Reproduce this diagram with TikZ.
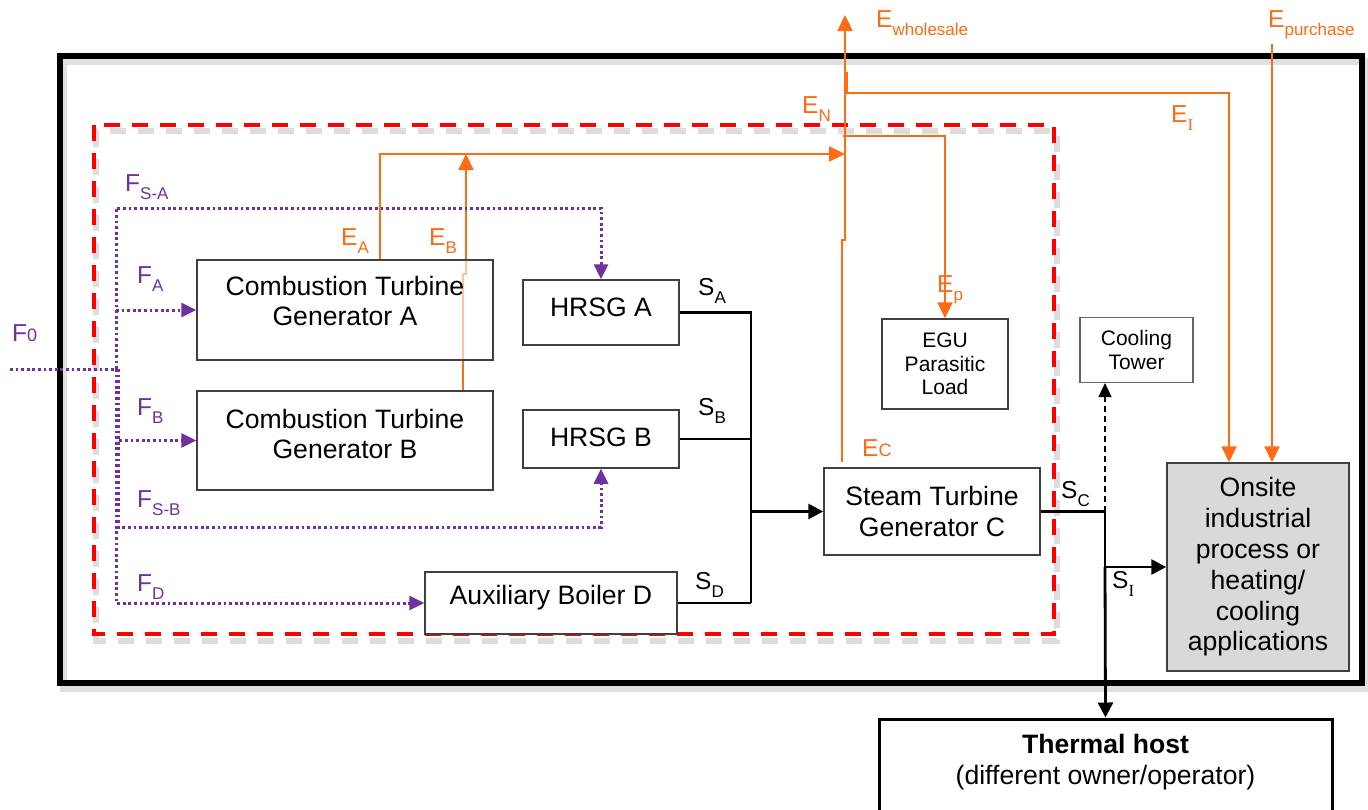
\documentclass[tikz,border=0pt]{standalone}
\usepackage{fontspec}
\setmainfont{Liberation Sans}
\newfontfamily\serifI{Liberation Serif}
\usetikzlibrary{arrows.meta,backgrounds}
\definecolor{eor}{HTML}{FF6A13}
\definecolor{fpu}{HTML}{7030A0}
\definecolor{bord}{HTML}{404040}
\definecolor{onfill}{HTML}{D9D9D9}
\newcommand{\sbs}[1]{\raisebox{-0.34em}{\fontsize{17}{17}\selectfont #1}}
\newcommand{\smc}[1]{{\fontsize{18}{18}\selectfont #1}}
\begin{document}
\begin{tikzpicture}[x=1pt,y=-1pt,
 box/.style={draw=bord, line width=1.5pt, fill=white, inner sep=0pt},
 txt/.style={align=center, font=\fontsize{26.6}{30.8}\selectfont, inner sep=0pt},
 small/.style={align=center, font=\fontsize{21}{23.5}\selectfont, inner sep=0pt},
 lab/.style={anchor=base west, inner sep=0pt, font=\fontsize{24.5}{24.5}\selectfont},
 elab/.style={lab, text=eor},
 flab/.style={lab, text=fpu},
 slab/.style={lab, text=black},
 steam/.style={line width=2.8pt, black},
 sarrow/.style={steam, -{Triangle[length=15pt,width=15pt]}},
 elec/.style={eor, line width=2.2pt},
 earrow/.style={elec, -{Triangle[length=16pt,width=15pt]}},
 fuel/.style={fpu, line width=3pt, dash pattern=on 2.8pt off 2.8pt},
 farrow/.style={fuel, -{Triangle[length=15pt,width=14pt]}},
]
\useasboundingbox (0,0) rectangle (1368,809);
\clip (0,0) rectangle (1368,809);

% frames with soft shadows
\draw[gray!40, line width=7pt, opacity=0.6] (63,61) rectangle (1366,688);
\draw[black, line width=5.5pt] (60,56) rectangle (1362,683);
\draw[gray!45, line width=6pt, opacity=0.6, dash pattern=on 16pt off 12pt] (96,131) rectangle (1057,641);
\draw[red, line width=4pt, dash pattern=on 16pt off 12pt] (94,125) rectangle (1054,634);

% boxes
\node[box, fill opacity=0.6, minimum width=296, minimum height=100] (ctgA) at (345,310) {};
\node[txt] (ctgAt) at (345,301) {Combustion Turbine\\Generator A};
\node[box, minimum width=296, minimum height=99] (ctgB) at (345,440.5) {};
\node[txt] (ctgBt) at (345,434) {Combustion Turbine\\Generator B};
\node[box, minimum width=156, minimum height=65] (hrsgA) at (601,312.5) {};
\node[txt] (hrsgAt) at (601,307) {HRSG A};
\node[box, minimum width=156, minimum height=58] (hrsgB) at (601,439) {};
\node[txt] (hrsgBt) at (601,437) {HRSG B};
\node[box, minimum width=252, minimum height=62] (auxD) at (551,603) {};
\node[txt] (auxDt) at (551,598) {Auxiliary Boiler D};
\node[box, txt, minimum width=216, minimum height=87] (stc) at (932,511.5) {Steam Turbine\\Generator C};
\node[box, small, minimum width=126, minimum height=90] (egu) at (945,364) {EGU\\Parasitic\\Load};
\node[box, small, draw=gray!80!black, line width=1.1pt, minimum width=113, minimum height=65] (cool) at (1136.5,350) {Cooling\\Tower};
\node[box, txt, fill=onfill, minimum width=182, minimum height=208] (onsite) at (1258,567) {Onsite\\industrial\\process or\\heating/\\cooling\\applications};
\node[box, draw=black, line width=3pt, minimum width=453, minimum height=162] (thermal) at (1105.5,800) {};
\node[txt] (thermalt) at (1105.5,762) {\textbf{Thermal host}\\(different owner/operator)};

% coordinates
\coordinate (f0) at (10,369);
\coordinate (fj) at (118,369);
\coordinate (fk) at (116,369);
\coordinate (jN) at (845,154);
\coordinate (wtop) at (845,15);
\coordinate (ptop) at (1272,44);
\coordinate (eI0) at (847,72);
\coordinate (eP0) at (843,136);
\coordinate (bus) at (751,511.5);
\coordinate (sc) at (1105,511.5);
\coordinate (si) at (1105,567);

% electricity
\begin{scope}[on background layer]
\draw[earrow] ([xshift=118pt]ctgB.north) -- (463,274) -- (466,274) -- (466,154);
\end{scope}
\draw[earrow] ([xshift=35pt]ctgA.north) |- (jN);
\draw[earrow] ([xshift=-90pt,yshift=5pt]stc.north) -- (842,240) -- (845,240) -- (wtop);
\draw[earrow, line width=1.8pt] (eI0) -- (847,93) -| ([xshift=-29pt]onsite.north);
\draw[earrow] (ptop) -- (ptop |- onsite.north);
\draw[earrow] (eP0) -| (egu.north);

% steam
\draw[steam] (hrsgA.east) -| (751,603);
\draw[steam] (hrsgB.east) -- (751,439);
\draw[steam] (auxD.east) -- (751,603);
\draw[sarrow] (bus) -- (stc.west);
\draw[steam] (stc.east) -- (sc) -- (si);
\draw[sarrow] (si) -- (onsite.west);
\draw[sarrow] (si) -- (thermal.north);
\draw[black, line width=1.4pt, dash pattern=on 6pt off 4pt, -{Triangle[length=14pt,width=13pt]}] (sc) -- (sc |- cool.south);

% fuel
\draw[fuel] (f0) -- (fj);
\draw[farrow] (fk) -- (116,208) -| (hrsgA.north);
\draw[farrow] (116,310) -- (ctgA.west);
\draw[farrow] (fj) |- (ctgB.west);
\draw[farrow] (fj) -- (118,527) -| (hrsgB.south);
\draw[farrow] (fk) |- (auxD.west);

% labels
\node[flab] (lF0) at (12,341) {F\smc{0}};
\node[flab] (lFSA) at (125,191) {F\sbs{S-A}};
\node[flab] (lFA) at (137,283) {F\sbs{A}};
\node[flab] (lFB) at (137,415) {F\sbs{B}};
\node[flab] (lFSB) at (137,507) {F\sbs{S-B}};
\node[flab] (lFD) at (137,591) {F\sbs{D}};
\node[elab] (lEA) at (341,245) {E\sbs{A}};
\node[elab] (lEB) at (429,245) {E\sbs{B}};
\node[elab] (lEN) at (802,113) {E\sbs{N}};
\node[elab] (lEW) at (876,27) {E\sbs{wholesale}};
\node[elab] (lEP) at (1268,27) {E\sbs{purchase}};
\node[elab] (lEI) at (1171,122) {E\sbs{\serifI I}};
\node[elab] (lEp) at (937,292) {E\sbs{p}};
\node[elab] (lEC) at (862,456) {E\smc{C}};
\node[slab] (lSA) at (698,295) {S\sbs{A}};
\node[slab] (lSB) at (698,415) {S\sbs{B}};
\node[slab] (lSD) at (695,589) {S\sbs{D}};
\node[slab] (lSC) at (1061,498) {S\sbs{C}};
\node[slab] (lSI) at (1112,588) {S\sbs{\serifI I}};
\end{tikzpicture}
\end{document}
